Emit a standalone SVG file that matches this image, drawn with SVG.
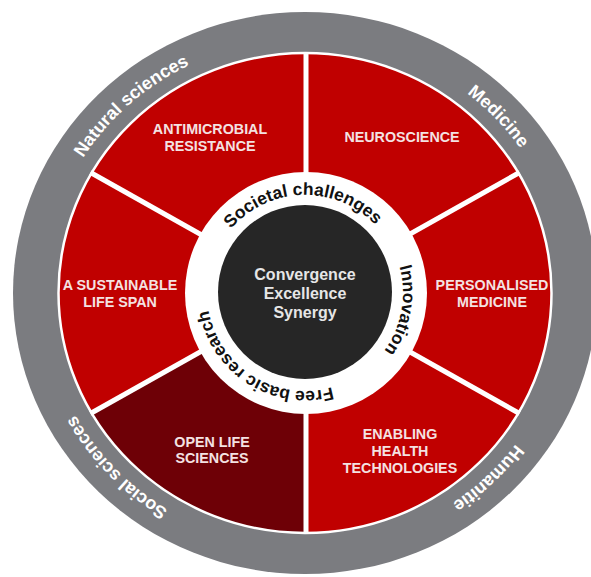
<svg xmlns="http://www.w3.org/2000/svg" width="591" height="577" viewBox="0 0 591 577">
<defs>
<style>
.lbl{font-family:"Liberation Sans",Arial,sans-serif;font-weight:bold;font-size:14.3px;fill:#F4E2E2;text-anchor:middle}
.ring{font-family:"Liberation Sans",Arial,sans-serif;font-weight:bold;font-size:18px;fill:#FFFFFF}
.inner{font-family:"Liberation Sans",Arial,sans-serif;font-weight:bold;font-size:17.5px;fill:#111111}
.core{font-family:"Liberation Sans",Arial,sans-serif;font-weight:bold;font-size:16px;fill:#E6E6E6;text-anchor:middle}
.red{fill:#C00000}
.dark{fill:#6E0006}
</style>
<path id="outerPath" d="M567,293 A262,254 0 1 1 43,293 A262,254 0 1 1 567,293"/>
<path id="innerPath" d="M212.91,259.48 A98,98 0 1 1 212.91,326.52 A98,98 0 0 1 212.91,259.48"/>
</defs>
<rect width="591" height="577" fill="#FFFFFF"/>
<g id="disciplines">
<ellipse cx="305" cy="293" rx="292" ry="281" fill="#7B7C80"/>
<text class="ring"><textPath href="#outerPath" startOffset="12.7%" text-anchor="middle">Humanitie</textPath></text>
<text class="ring"><textPath href="#outerPath" startOffset="38%" text-anchor="middle">Social sciences</textPath></text>
<text class="ring"><textPath href="#outerPath" startOffset="953">Natural</textPath></text>
<text class="ring"><textPath href="#outerPath" startOffset="1020">sciences</textPath></text>
<text class="ring"><textPath href="#outerPath" startOffset="88.1%" text-anchor="middle">Medicine</textPath></text>
</g>
<g id="antimicrobial">
<path class="red" d="M305,293 L91.53,173 A246.5,240 0 0 1 305,53 Z"/>
<text class="lbl" x="210" y="134">ANTIMICROBIAL</text>
<text class="lbl" x="210" y="151">RESISTANCE</text>
</g>
<g id="neuroscience">
<path class="red" d="M305,293 L305,53 A246.5,240 0 0 1 518.47,173 Z"/>
<text class="lbl" x="402" y="142">NEUROSCIENCE</text>
</g>
<g id="personalised">
<path class="red" d="M305,293 L518.47,173 A246.5,240 0 0 1 518.47,413 Z"/>
<text class="lbl" x="492" y="290">PERSONALISED</text>
<text class="lbl" x="492" y="307">MEDICINE</text>
</g>
<g id="enabling">
<path class="red" d="M305,293 L518.47,413 A246.5,240 0 0 1 305,533 Z"/>
<text class="lbl" x="400" y="439">ENABLING</text>
<text class="lbl" x="400" y="456">HEALTH</text>
<text class="lbl" x="400" y="473">TECHNOLOGIES</text>
</g>
<g id="openlife">
<path class="dark" d="M305,293 L305,533 A246.5,240 0 0 1 91.53,413 Z"/>
<text class="lbl" x="212" y="447">OPEN LIFE</text>
<text class="lbl" x="212" y="463">SCIENCES</text>
</g>
<g id="sustainable">
<path class="red" d="M305,293 L91.53,413 A246.5,240 0 0 1 91.53,173 Z"/>
<text class="lbl" x="120" y="290">A SUSTAINABLE</text>
<text class="lbl" x="120" y="307">LIFE SPAN</text>
</g>
<g id="connectors" stroke="#FFFFFF" stroke-width="5" fill="none">
<ellipse cx="305" cy="293" rx="246.5" ry="240" stroke-width="2.5"/>
<line x1="306" y1="293" x2="306" y2="52"/>
<line x1="305" y1="293" x2="519.5" y2="172.5"/>
<line x1="305" y1="293" x2="519.5" y2="413.5"/>
<line x1="306" y1="293" x2="306" y2="534"/>
<line x1="305" y1="293" x2="90.5" y2="413.5"/>
<line x1="305" y1="293" x2="90.5" y2="172.5"/>
</g>
<g id="themes">
<circle cx="306" cy="293" r="121" fill="#FFFFFF"/>
<text class="inner"><textPath href="#innerPath" startOffset="117" text-anchor="middle">Societal challenges</textPath></text>
<text class="inner"><textPath href="#innerPath" startOffset="291" text-anchor="middle">Innovation</textPath></text>
<text class="inner"><textPath href="#innerPath" startOffset="400">Free</textPath></text>
<text class="inner"><textPath href="#innerPath" startOffset="441.6">basic</textPath></text>
<text class="inner"><textPath href="#innerPath" startOffset="491.2">research</textPath></text>
</g>
<g id="core">
<circle cx="305" cy="292" r="87" fill="#262626"/>
<text class="core" x="305" y="280">Convergence</text>
<text class="core" x="305" y="299">Excellence</text>
<text class="core" x="305" y="318">Synergy</text>
</g>
</svg>
